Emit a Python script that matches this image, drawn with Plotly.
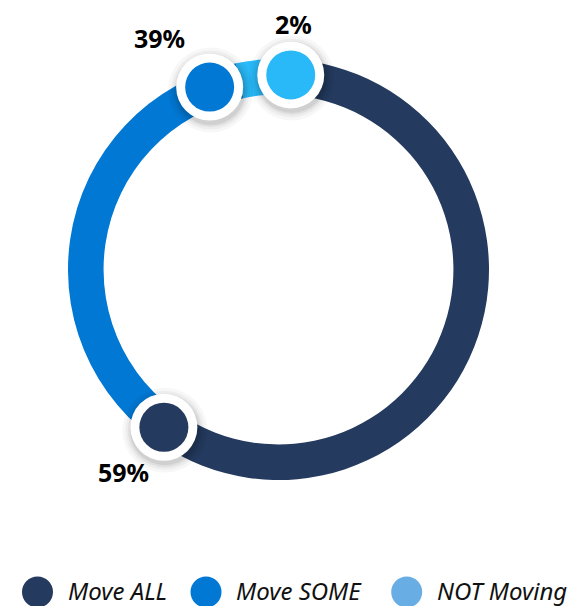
import math
import plotly.graph_objects as go

# ---------------- data ----------------
categories = ["Move ALL", "Move SOME", "NOT Moving"]
values = [59, 39, 2]
value_labels = ["59%", "39%", "2%"]

# ---------------- style ----------------
ring_colors = ["#243A5E", "#0078D4", "#29B8F8"]
legend_colors = ["#243A5E", "#0078D4", "#69ADE5"]

W, H = 577, 606
CX, CY = 278.5, 269.5      # ring centre (px)
R_OUT = 210.5              # outer radius (px)
HOLE = 0.831
R_MID = 195.0              # radius where the knobs sit
ROTATION = -4.4            # start angle of first slice (deg, clockwise from 12 o'clock)
KNOB_D = 67                # white disc diameter
DOT_D = 49                 # coloured dot diameter
KNOB_GAP = 15              # min gap between neighbouring knobs (px)
KNOB_SHIFT = 8.0           # knob centre beyond the slice end (deg)

label_offsets = [(-40, 45), (-50, -49), (3, -51)]   # text offset from knob (px)
legend_marker_x = [37.5, 206, 406.7]
legend_y = 592
legend_text_y = 590
legend_marker_d = 31
legend_text_dx = 28

FONT = "Noto Sans"

# ---------------- knob angles (slice ends, then de-overlapped) ----------------
total = float(sum(values))
ends = []
acc = ROTATION
for v in values:
    acc += 360.0 * v / total
    ends.append(acc)
angles = [e + KNOB_SHIFT for e in ends]
min_sep = math.degrees(2 * math.asin((KNOB_D + KNOB_GAP) / 2.0 / R_MID))
for i in range(len(angles) - 2, -1, -1):
    if angles[i + 1] - angles[i] < min_sep:
        angles[i] = angles[i + 1] - min_sep

kx = [CX + R_MID * math.sin(math.radians(a)) for a in angles]
ky = [CY - R_MID * math.cos(math.radians(a)) for a in angles]

fig = go.Figure()

fig.add_trace(go.Pie(
    labels=categories, values=values, sort=False, direction="clockwise",
    rotation=ROTATION, hole=HOLE, textinfo="none", hoverinfo="label+percent",
    marker=dict(colors=ring_colors, line=dict(width=0)),
    domain=dict(x=[(CX - R_OUT) / W, (CX + R_OUT) / W],
                y=[1 - (CY + R_OUT) / H, 1 - (CY - R_OUT) / H]),
    showlegend=False,
))


def disc(x, y, d, color, dx=0.0, dy=0.0):
    r = d / 2.0
    return dict(type="circle", xref="x", yref="y", layer="above",
                x0=x + dx - r, x1=x + dx + r, y0=y + dy - r, y1=y + dy + r,
                fillcolor=color, line=dict(width=0))


shapes = []
for i in range(len(values)):
    for extra, alpha in [(18, 0.03), (12, 0.04), (7, 0.05), (3, 0.07)]:
        shapes.append(disc(kx[i], ky[i], KNOB_D + extra, f"rgba(0,0,0,{alpha})", 1, 3))
    shapes.append(disc(kx[i], ky[i], KNOB_D, "white"))
    shapes.append(disc(kx[i], ky[i], DOT_D, ring_colors[i]))

annotations = []
for i, lab in enumerate(value_labels):
    dx, dy = label_offsets[i]
    annotations.append(dict(
        x=kx[i] + dx, y=ky[i] + dy, xref="x", yref="y", text=f"<b>{lab}</b>",
        showarrow=False, xanchor="center", yanchor="middle",
        font=dict(family=FONT, size=25, color="#000000")))

for i, name in enumerate(categories):
    mx = legend_marker_x[i]
    shapes.append(disc(mx, legend_y, legend_marker_d, legend_colors[i]))
    annotations.append(dict(
        x=mx + legend_text_dx, y=legend_text_y, xref="x", yref="y", text=f"<i>{name}</i>",
        showarrow=False, xanchor="left", yanchor="middle",
        font=dict(family=FONT, size=24, color="#111111")))

fig.update_layout(
    width=W, height=H, margin=dict(l=0, r=0, t=0, b=0),
    paper_bgcolor="white", plot_bgcolor="rgba(0,0,0,0)",
    xaxis=dict(range=[0, W], domain=[0, 1], visible=False, fixedrange=True),
    yaxis=dict(range=[H, 0], domain=[0, 1], visible=False, fixedrange=True),
    annotations=annotations, shapes=shapes, showlegend=False,
)

fig.write_html("out.html", config={"displayModeBar": False},
               post_script="document.body.style.margin='0';document.body.style.overflow='hidden';")
